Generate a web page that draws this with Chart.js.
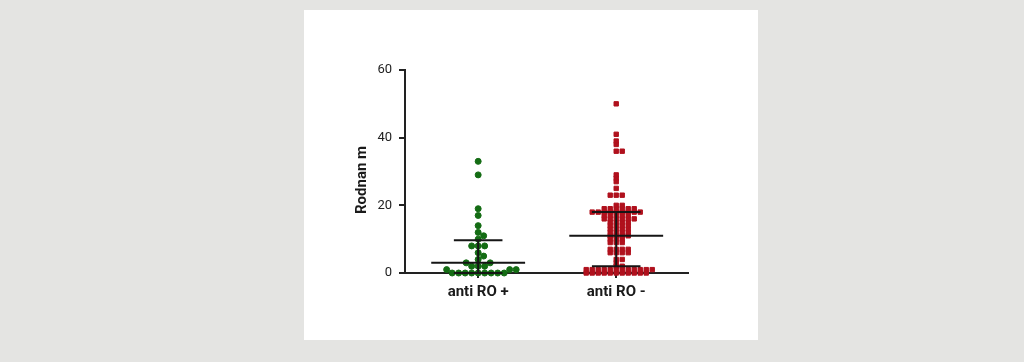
<!DOCTYPE html>
<html>
<head>
<meta charset="utf-8">
<script src="https://cdn.jsdelivr.net/npm/chart.js@4.4.0/dist/chart.umd.min.js"></script>
<style>
  html, body { margin: 0; padding: 0; background: #e4e4e2; }
  body { width: 1024px; height: 362px; position: relative; overflow: hidden; }
  .panel { position: absolute; left: 304px; top: 10px; width: 454px; height: 330px; background: #fff; }
  canvas { display: block; }
</style>
</head>
<body>
<div class="panel"><canvas id="chart" width="454" height="330"></canvas></div>
<script>
// groups on the x axis
const groups = ['anti RO +', 'anti RO -'];

// Rodnan m per patient
const antiRoPos = [33, 29, 19, 17, 14, 12, 11, 10, 8, 8, 8, 6, 5, 4, 3, 3,
  2, 2, 2, 1, 1, 1, 0, 0, 0, 0, 0, 0, 0, 0, 0];
const antiRoNeg = [50, 41, 39, 38, 36, 36, 29, 28, 27, 25, 23, 23, 23, 20, 20,
  19, 19, 19, 19, 19, 19,
  18, 18, 18, 18, 18, 18, 18, 18, 18,
  17, 17, 17, 17, 17,
  16, 16, 16, 16, 16, 16,
  15, 15, 15, 15, 14, 14, 14, 14, 13, 13, 13, 13,
  12, 12, 12, 12, 11, 11, 11, 11, 10, 10, 10, 9, 9, 9,
  7, 7, 7, 7, 6, 6, 6, 6, 4, 4, 3, 2, 2,
  1, 1, 1, 1, 1, 1, 1, 1, 1, 1, 1, 1,
  0, 0, 0, 0, 0, 0, 0, 0, 0, 0, 0];

// median and interquartile range bars
const medians = [3, 11];
const lowerQuartiles = [0, 2];
const upperQuartiles = [9.7, 18];

const yTicks = [0, 20, 40, 60];

// spread equal values sideways so dots don't sit on top of each other
// round dots: circular spacing, square dots: box spacing (rows stack)
function swarm(values, groupIndex, pitchX, pitchY, box) {
  const pxPerY = 203 / 60, pxPerX = 138;
  const placed = [];
  return values.slice().sort((a, b) => a - b).map(v => {
    const py = v * pxPerY;
    let off = 0;
    for (let k = 0; k < 600; k++) {
      off = k === 0 ? 0 : (k % 2 ? 1 : -1) * Math.ceil(k / 2) * 0.5;
      const hit = placed.some(p => {
        const dx = Math.abs(off - p.x), dy = Math.abs(py - p.y);
        if (box) return dx < pitchX && dy < pitchY;
        return dx * dx + dy * dy < pitchX * pitchX;
      });
      if (!hit) break;
    }
    placed.push({ x: off, y: py });
    return { x: groupIndex + off / pxPerX, y: v };
  });
}

const errorBars = {
  id: 'errorBars',
  afterDatasetsDraw(chart) {
    const { ctx, scales: { x, y } } = chart;
    ctx.save();
    ctx.strokeStyle = '#151515';
    ctx.lineWidth = 2;
    groups.forEach((g, i) => {
      const cx = x.getPixelForValue(i);
      const wide = x.getPixelForValue(i + 0.34) - cx;
      const cap = x.getPixelForValue(i + 0.176) - cx;
      const ym = y.getPixelForValue(medians[i]);
      const ylo = y.getPixelForValue(lowerQuartiles[i]);
      const yhi = y.getPixelForValue(upperQuartiles[i]);
      ctx.beginPath();
      ctx.moveTo(cx - wide, ym); ctx.lineTo(cx + wide, ym);
      ctx.moveTo(cx - cap, yhi); ctx.lineTo(cx + cap, yhi);
      ctx.moveTo(cx - cap, ylo); ctx.lineTo(cx + cap, ylo);
      ctx.moveTo(cx, yhi); ctx.lineTo(cx, ylo);
      ctx.stroke();
    });
    ctx.restore();
  }
};

// y title sits a bit below the middle of the axis in the original
const yTitle = {
  id: 'yTitle',
  afterDraw(chart) {
    const ctx = chart.ctx;
    ctx.save();
    ctx.translate(58, 170);
    ctx.rotate(-Math.PI / 2);
    ctx.font = 'bold 15px Roboto';
    ctx.fillStyle = '#1a1a1a';
    ctx.textAlign = 'center';
    ctx.textBaseline = 'middle';
    ctx.fillText('Rodnan m', 0, 0);
    ctx.restore();
  }
};

new Chart(document.getElementById('chart'), {
  type: 'scatter',
  data: {
    datasets: [{
      label: groups[0],
      data: swarm(antiRoPos, 0, 6.3, 6.3, false),
      pointStyle: 'circle',
      pointRadius: 3,
      borderWidth: 1,
      backgroundColor: '#146c14',
      borderColor: '#146c14',
      clip: false,
    }, {
      label: groups[1],
      data: swarm(antiRoNeg, 1, 5.6, 3.2, true),
      pointStyle: 'rect',
      pointRadius: 3.1,
      borderWidth: 1,
      backgroundColor: '#b0111d',
      borderColor: '#b0111d',
      clip: false,
    }],
  },
  options: {
    responsive: false,
    animation: false,
    devicePixelRatio: 1,
    layout: { padding: { left: 0, top: 60, right: 70, bottom: 0 } },
    plugins: {
      legend: { display: false },
      tooltip: { enabled: false },
    },
    scales: {
      x: {
        type: 'linear',
        min: -0.53,
        max: 1.52,
        afterBuildTicks: (s) => { s.ticks = groups.map((g, i) => ({ value: i })); },
        afterFit: (s) => { s.height = 67; },
        border: { display: true, color: '#222', width: 2 },
        grid: { drawOnChartArea: false, drawTicks: true, tickLength: 5, color: '#222', lineWidth: 2 },
        ticks: {
          padding: 5,
          color: '#1a1a1a',
          font: { family: 'Roboto', size: 15, weight: 'bold' },
          callback: (v) => groups[v],
        },
      },
      y: {
        min: 0,
        max: 60,
        afterBuildTicks: (s) => { s.ticks = yTicks.map(v => ({ value: v })); },
        afterFit: (s) => { s.width = 101; },
        border: { display: true, color: '#222', width: 2 },
        grid: { drawOnChartArea: false, drawTicks: true, tickLength: 6, color: '#222', lineWidth: 2 },
        ticks: {
          padding: 7,
          color: '#222',
          font: { family: 'Roboto', size: 13 },
        },
      },
    },
  },
  plugins: [errorBars, yTitle],
});
</script>
</body>
</html>
